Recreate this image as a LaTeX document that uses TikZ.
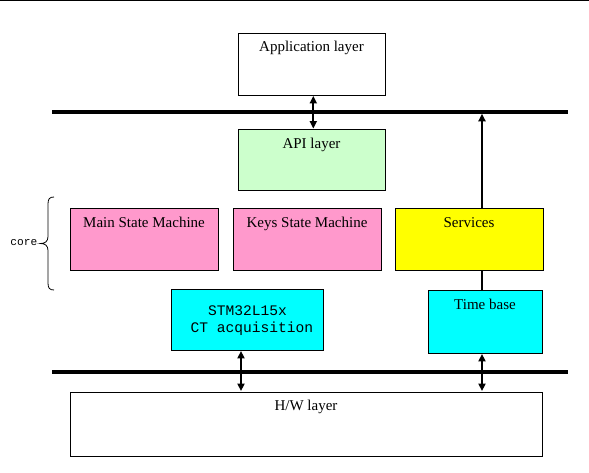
\documentclass[tikz,border=0pt]{standalone}
\usepackage{fontspec}
\setmainfont{Liberation Serif}
\setmonofont{Liberation Mono}
\usetikzlibrary{arrows.meta}
\definecolor{pinkbox}{HTML}{FF99CC}
\definecolor{greenbox}{HTML}{CCFFCC}
\definecolor{yellowbox}{HTML}{FFFF00}
\definecolor{cyanbox}{HTML}{00FFFF}
\tikzset{
  box/.style={draw=black, line width=0.9pt, rectangle, inner sep=0pt},
  boxtext/.style={anchor=base, inner sep=0pt, font=\fontsize{15}{17}\selectfont},
  bus/.style={line width=3.6pt},
  dblarrow/.style={line width=2pt, {Triangle[length=7.5pt,width=7pt]}-{Triangle[length=7.5pt,width=7pt]}, shorten <=0.5pt, shorten >=0.5pt},
  uparrow/.style={line width=2pt, -{Triangle[length=7.5pt,width=7pt]}},
  plainline/.style={line width=2pt},
}
\begin{document}
\begin{tikzpicture}[x=1pt,y=-1pt]
\useasboundingbox (0,0) rectangle (589,473);
\fill[white] (0,0) rectangle (589,473);
% top border line
\coordinate (tl) at (0,0.6);
\coordinate (tr) at (589,0.6);
\draw[line width=1.2pt] (tl) -- (tr);

% buses
\coordinate (bus1l) at (52,112);
\coordinate (bus1r) at (568,112);
\coordinate (bus2l) at (52,372);
\coordinate (bus2r) at (568,372);
\draw[bus] (bus1l) -- (bus1r);
\draw[bus] (bus2l) -- (bus2r);

% boxes
\node[box, minimum width=147pt, minimum height=62pt] (app) at (311.5,64) {};
\node[box, fill=greenbox, minimum width=147pt, minimum height=61pt] (api) at (311.5,160) {};
\node[box, fill=pinkbox, minimum width=148pt, minimum height=62pt] (main) at (144,239) {};
\node[box, fill=pinkbox, minimum width=148pt, minimum height=62pt] (keys) at (307,239) {};
\node[box, fill=yellowbox, minimum width=148pt, minimum height=62pt] (serv) at (469,239) {};
\node[box, fill=cyanbox, minimum width=152pt, minimum height=61pt] (stm) at (247.5,319.5) {};
\node[box, fill=cyanbox, minimum width=114pt, minimum height=63pt] (time) at (485,321.5) {};
\node[box, minimum width=472pt, minimum height=64pt] (hw) at (306,424) {};

% labels
\path (app.north) ++(0,18.5) node[boxtext] (appt) {Application layer};
\path (api.north) ++(0,19) node[boxtext] (apit) {API layer};
\path (main.north) ++(0,20) node[boxtext] (maint) {Main State Machine};
\path (keys.north) ++(0,20) node[boxtext] (keyst) {Keys State Machine};
\path (serv.north) ++(0,20) node[boxtext] (servt) {Services};
\path (time.north) ++(0,20) node[boxtext] (timet) {Time base};
\path (hw.north) ++(0,19) node[boxtext] (hwt) {H/W layer};
\node[anchor=center, align=center, inner sep=0pt,
      font=\ttfamily\fontsize{14.6}{17}\selectfont] (stmt) at (247.5,321)
      {STM32L15x\\\hphantom{x}CT acquisition};

% core brace
\coordinate (bt) at (54,197);
\coordinate (bb) at (54,290);
\coordinate (btip) at (40.5,243.5);
\draw[line width=0.8pt] (bt) .. controls (49.5,197) and (48,199) .. (48,204)
  -- (48,236.5) .. controls (48,241.5) and (45,243.5) .. (btip)
  .. controls (45,243.5) and (48,245.5) .. (48,250.5)
  -- (48,283) .. controls (48,288) and (49.5,290) .. (bb);
\node[anchor=east, inner sep=0pt, font=\ttfamily\fontsize{11.2}{13}\selectfont] (core) at (37.5,243) {core};

% connectors
\coordinate (ax) at (313.3,0);
\coordinate (sx) at (241,0);
\coordinate (tx) at (482,0);
\draw[dblarrow] (app.south -| ax) -- (api.north -| ax);
\draw[uparrow] (serv.north -| tx) -- ([yshift=-1.8pt]bus1l -| tx);
\draw[plainline] (time.north -| tx) -- (serv.south -| tx);
\draw[dblarrow] (stm.south -| sx) -- (hw.north -| sx);
\draw[dblarrow] (time.south -| tx) -- (hw.north -| tx);
\end{tikzpicture}
\end{document}
